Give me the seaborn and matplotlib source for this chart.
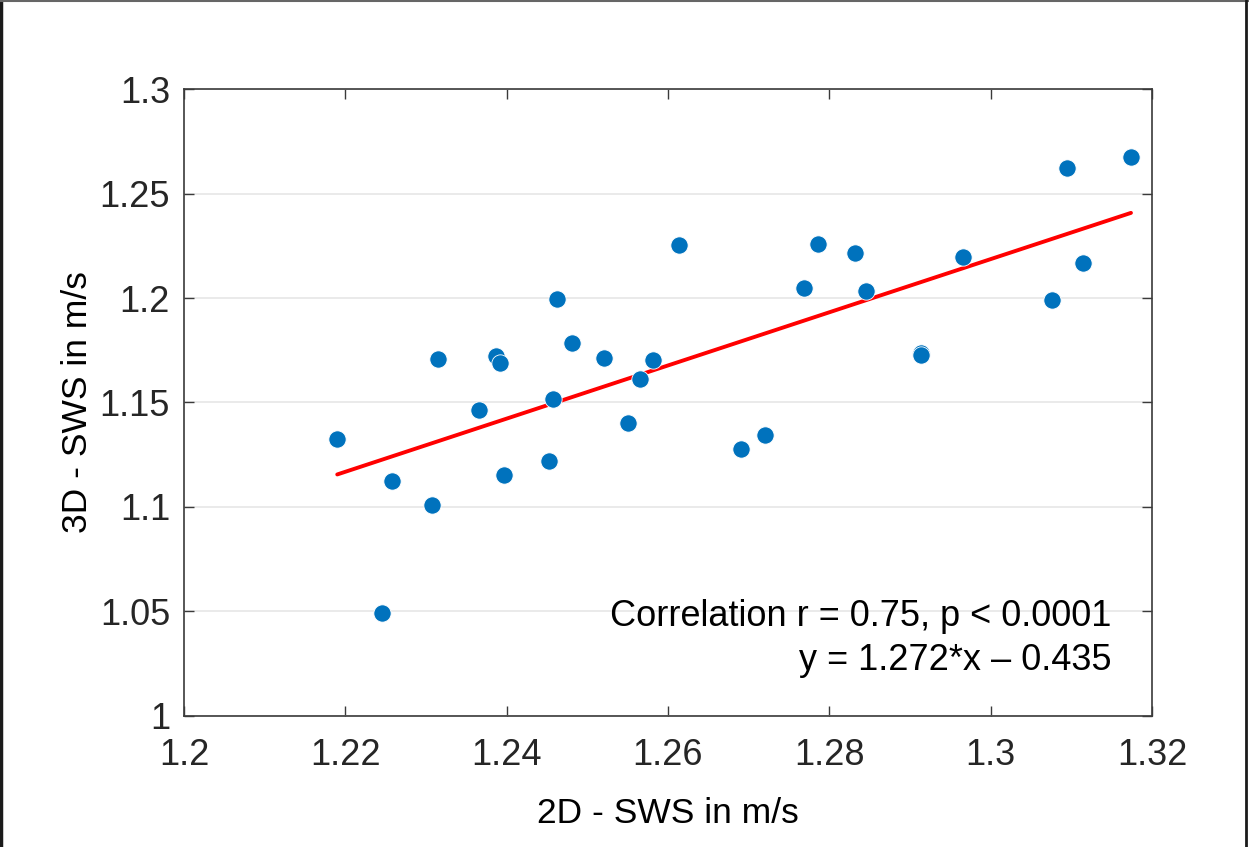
import numpy as np
import pandas as pd
import matplotlib.pyplot as plt
import seaborn as sns
from matplotlib.lines import Line2D

# ---- data ----
sws_2d = [1.2190, 1.2245, 1.2258, 1.2307, 1.2315, 1.2366, 1.2387, 1.2392,
          1.2397, 1.2452, 1.2458, 1.2462, 1.2481, 1.2521, 1.2551, 1.2565,
          1.2581, 1.2614, 1.2690, 1.2720, 1.2769, 1.2786, 1.2832, 1.2845,
          1.2914, 1.2914, 1.2966, 1.3076, 1.3095, 1.3114, 1.3174]
sws_3d = [1.1325, 1.0491, 1.1124, 1.1010, 1.1708, 1.1464, 1.1722, 1.1689,
          1.1155, 1.1220, 1.1518, 1.1994, 1.1786, 1.1711, 1.1400, 1.1612,
          1.1703, 1.2252, 1.1279, 1.1346, 1.2048, 1.2260, 1.2215, 1.2032,
          1.1737, 1.1725, 1.2196, 1.1992, 1.2622, 1.2169, 1.2676]
fit_slope = 1.272
fit_intercept = -0.435

x_ticks = [1.2, 1.22, 1.24, 1.26, 1.28, 1.3, 1.32]
y_ticks = [1, 1.05, 1.1, 1.15, 1.2, 1.25, 1.3]
x_ticklabels = ['1.2', '1.22', '1.24', '1.26', '1.28', '1.3', '1.32']
y_ticklabels = ['1', '1.05', '1.1', '1.15', '1.2', '1.25', '1.3']

df = pd.DataFrame({'x': sws_2d, 'y': sws_3d})
fit_x = np.array([min(sws_2d), max(sws_2d)])
fit = pd.DataFrame({'x': fit_x, 'y': fit_slope * fit_x + fit_intercept})

sns.set_theme(style='white')
plt.rcParams['font.family'] = ['Liberation Sans', 'DejaVu Sans']

fig = plt.figure(figsize=(12.49, 8.47), dpi=100)
ax = fig.add_axes([0.1473, 0.1547, 0.775, 0.7402])

# regression line + points
sns.lineplot(data=fit, x='x', y='y', ax=ax, color='#ff0000', linewidth=2.8, zorder=2)
sns.scatterplot(data=df, x='x', y='y', ax=ax, color='#0072bd', s=155,
                edgecolor='white', linewidth=0.6, zorder=3)

ax.set_xlim(1.2, 1.32)
ax.set_ylim(1.0, 1.3)
ax.set_xticks(x_ticks)
ax.set_xticklabels(x_ticklabels)
ax.set_yticks(y_ticks)
ax.set_yticklabels(y_ticklabels)

# MATLAB-like look: horizontal grid, inward ticks on all sides
ax.yaxis.grid(True, color='#e6e6e6', linewidth=1.2)
ax.xaxis.grid(False)
ax.set_axisbelow(True)
for sp in ax.spines.values():
    sp.set_visible(True)
    sp.set_color('#3a3a3a')
    sp.set_linewidth(1.2)
ax.tick_params(axis='both', which='major', direction='in', length=7, width=1.0,
               color='#3a3a3a', labelsize=26, labelcolor='#262626',
               top=True, right=True, bottom=True, left=True)
ax.tick_params(axis='x', pad=16)
ax.tick_params(axis='y', pad=10)

ax.set_xlabel('2D - SWS in m/s', fontsize=25.5, color='black', labelpad=17)
ax.set_ylabel('3D - SWS in m/s', fontsize=25.5, color='black', labelpad=4)

ax.text(0.958, 0.158, 'Correlation r = 0.75, p < 0.0001', transform=ax.transAxes,
        ha='right', va='center', fontsize=26, color='black')
ax.text(0.958, 0.088, 'y = 1.272*x \u2013 0.435', transform=ax.transAxes,
        ha='right', va='center', fontsize=26, color='black')

# frame around the picture (left, top, right)
fig.add_artist(Line2D([0.001, 0.001], [0, 1], transform=fig.transFigure, color='#1a1a1a', lw=2.5))
fig.add_artist(Line2D([0, 1], [0.9985, 0.9985], transform=fig.transFigure, color='#666666', lw=1.5))
fig.add_artist(Line2D([0.9975, 0.9975], [0, 1], transform=fig.transFigure, color='#1a1a1a', lw=2.0))

fig.savefig('out.png', dpi=100)
